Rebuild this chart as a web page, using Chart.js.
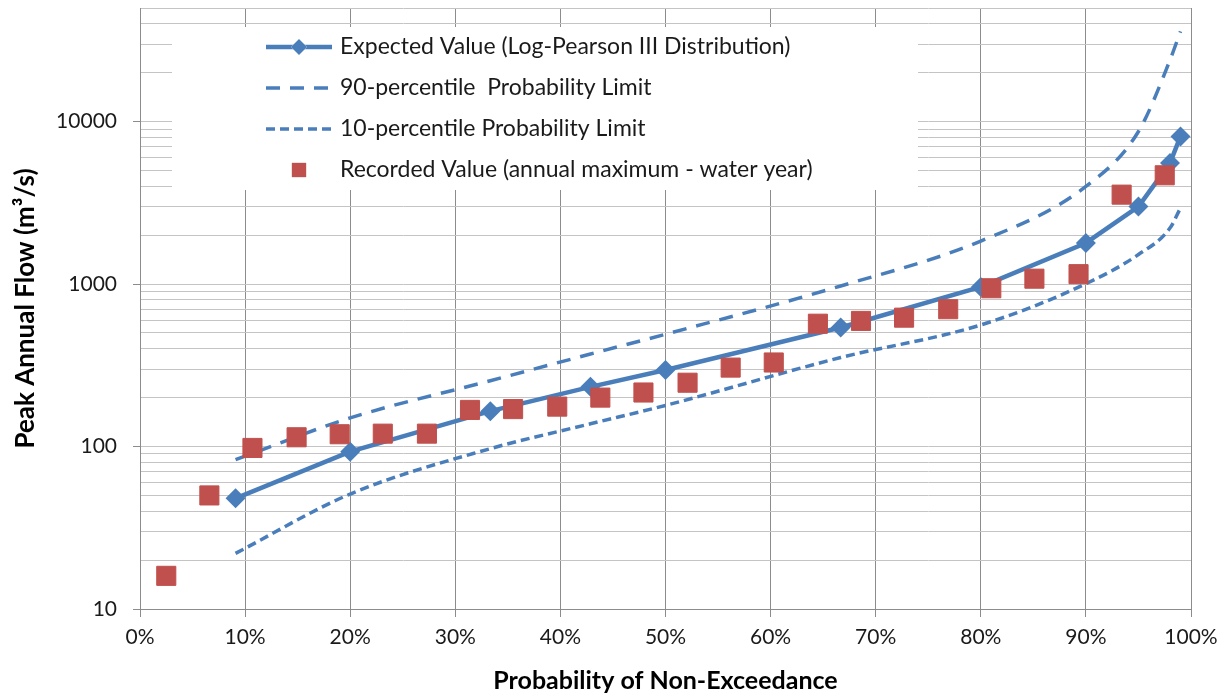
<!DOCTYPE html>
<html>
<head>
<meta charset="utf-8">
<script src="https://cdn.jsdelivr.net/npm/chart.js@4.4.1/dist/chart.umd.min.js"></script>
<style>
  html, body { margin: 0; padding: 0; background: #fff; }
  #wrap { width: 1224px; height: 697px; }
</style>
</head>
<body>
<div id="wrap"><canvas id="flowChart" width="1224" height="697"></canvas></div>
<script>
// Log-Pearson III fit: return periods 1.1 .. 100 yr as non-exceedance probability (%)
const probExpected = [9.09, 20, 33.33, 42.86, 50, 66.67, 80, 90, 95, 98, 99];
const flowExpected = [48, 93, 165, 233, 296, 540, 960, 1790, 3000, 5550, 8100];
const flowUpper90  = [83, 150, 254, 371, 491, 973, 1840, 3990, 8690, 23900, 35900];
const flowLower10  = [22, 51, 97, 138, 179, 353, 560, 1005, 1520, 2210, 2940];

// ranked annual maxima and their plotting positions (%)
const probRecorded = [2.5, 6.6, 10.7, 14.9, 19.0, 23.1, 27.3, 31.4, 35.5, 39.7, 43.8, 47.9,
                      52.1, 56.2, 60.3, 64.5, 68.6, 72.7, 76.9, 81.0, 85.1, 89.3, 93.4, 97.5];
const flowRecorded = [16, 50, 98, 114, 119, 120, 120, 168, 170, 176, 200, 215,
                      247, 306, 329, 570, 593, 621, 700, 942, 1079, 1150, 3550, 4670];

const xTicks = [0, 10, 20, 30, 40, 50, 60, 70, 80, 90, 100];
const yLabels = [10, 100, 1000, 10000];
const yMin = 10, yMax = 50000;

const FONT = 'Lato';
const BLUE = '#4A7EBB';
const RED = '#C0504D';

// every 1..9 x decade step gets a grid line, only decades get a label
const yGrid = [];
yLabels.forEach(d => {
  for (let k = 1; k <= 9; k++) {
    if (k * d <= yMax) yGrid.push(k * d);
  }
});

const pts = (xs, ys) => xs.map((x, i) => ({ x: x, y: ys[i] }));

// white legend panel sitting on top of the grid, inside the plot
const legendPanel = {
  id: 'legendPanel',
  beforeDatasetsDraw(chart) {
    const ctx = chart.ctx;
    const ds = chart.data.datasets;
    ctx.save();
    ctx.fillStyle = '#ffffff';
    ctx.fillRect(172, 27, 746, 163);
    ctx.font = '23px ' + FONT;
    ctx.textBaseline = 'middle';
    ds.forEach((d, row) => {
      const y = 47 + row * 41;
      const x0 = 266, x1 = 332;
      if (d.showLine) {
        ctx.strokeStyle = d.borderColor;
        ctx.lineWidth = d.borderWidth;
        ctx.setLineDash(d.borderDash || []);
        ctx.beginPath();
        ctx.moveTo(x0, y);
        ctx.lineTo(x1, y);
        ctx.stroke();
        ctx.setLineDash([]);
      }
      if (d.pointRadius > 0) {
        Chart.helpers.drawPoint(ctx, {
          pointStyle: d.pointStyle,
          radius: d.legendRadius,
          borderWidth: 0
        }, (x0 + x1) / 2, y);
        ctx.fillStyle = d.backgroundColor;
        ctx.fill();
      }
      ctx.fillStyle = '#1a1a1a';
      ctx.fillText(d.label, 340, y);
    });
    ctx.restore();
  }
};

new Chart(document.getElementById('flowChart'), {
  type: 'scatter',
  data: {
    datasets: [
      {
        label: 'Expected Value (Log-Pearson III Distribution)',
        data: pts(probExpected, flowExpected),
        showLine: true,
        borderColor: BLUE,
        backgroundColor: BLUE,
        borderWidth: 4.5,
        pointStyle: 'rectRot',
        pointRadius: 10,
        legendRadius: 8,
        pointBorderWidth: 0,
        tension: 0,
        order: 1
      },
      {
        label: '90-percentile  Probability Limit',
        data: pts(probExpected, flowUpper90),
        showLine: true,
        borderColor: BLUE,
        backgroundColor: BLUE,
        borderWidth: 3.5,
        borderDash: [14, 10],
        pointRadius: 0,
        cubicInterpolationMode: 'monotone',
        order: 2
      },
      {
        label: '10-percentile Probability Limit',
        data: pts(probExpected, flowLower10),
        showLine: true,
        borderColor: BLUE,
        backgroundColor: BLUE,
        borderWidth: 3.5,
        borderDash: [9, 5],
        pointRadius: 0,
        cubicInterpolationMode: 'monotone',
        order: 3
      },
      {
        label: 'Recorded Value (annual maximum - water year)',
        data: pts(probRecorded, flowRecorded),
        showLine: false,
        borderColor: RED,
        backgroundColor: RED,
        borderWidth: 1,
        pointStyle: 'rect',
        pointRadius: 13.5,
        legendRadius: 10,
        order: 0
      }
    ]
  },
  options: {
    responsive: false,
    animation: false,
    events: [],
    layout: { autoPadding: false, padding: { top: 8, right: 33, left: 0, bottom: 0 } },
    plugins: {
      legend: { display: false },
      tooltip: { enabled: false }
    },
    scales: {
      x: {
        type: 'linear',
        min: 0,
        max: 100,
        afterBuildTicks: s => { s.ticks = xTicks.map(v => ({ value: v })); },
        afterFit: s => { s.height = 88; s.paddingLeft = 0; s.paddingRight = 0; },
        grid: { color: '#8c8c8c', lineWidth: 1, tickLength: 8, tickColor: '#8c8c8c' },
        border: { color: '#8c8c8c' },
        ticks: {
          autoSkip: false,
          maxRotation: 0,
          padding: 8,
          color: '#1a1a1a',
          font: { family: FONT, size: 21 },
          callback: v => v + '%'
        },
        title: {
          display: true,
          text: 'Probability of Non-Exceedance',
          color: '#000',
          font: { family: FONT, size: 25, weight: 'bold' },
          padding: { top: 0, bottom: 1 }
        }
      },
      y: {
        type: 'logarithmic',
        min: yMin,
        max: yMax,
        afterBuildTicks: s => { s.ticks = yGrid.map(v => ({ value: v })); },
        afterFit: s => { s.width = 140; s.paddingTop = 0; s.paddingBottom = 0; },
        grid: {
          color: '#c4c4c4',
          lineWidth: 1,
          tickLength: 7,
          tickColor: c => yLabels.includes(c.tick.value) ? '#8c8c8c' : 'rgba(0,0,0,0)'
        },
        border: { color: '#8c8c8c' },
        ticks: {
          autoSkip: false,
          padding: 16,
          color: '#1a1a1a',
          font: { family: FONT, size: 21 },
          callback: v => yLabels.includes(v) ? String(v) : ''
        },
        title: {
          display: true,
          text: 'Peak Annual Flow (m³/s)',
          color: '#000',
          font: { family: FONT, size: 26, weight: 'bold' },
          padding: { top: 10, bottom: 0 }
        }
      }
    }
  },
  plugins: [legendPanel]
});
</script>
</body>
</html>
